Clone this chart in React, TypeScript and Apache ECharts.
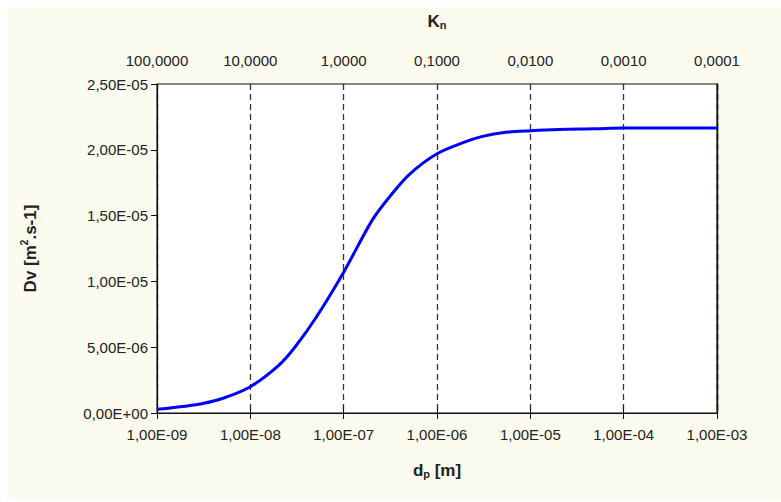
import React, { useEffect, useRef } from "react";
import * as echarts from "echarts";

const dpValues = [
  1e-9, 2e-9, 3e-9, 5e-9, 1e-8, 2e-8, 3e-8, 5e-8, 1e-7, 2e-7, 3e-7, 5e-7,
  1e-6, 2e-6, 3e-6, 5e-6, 1e-5, 2e-5, 5e-5, 1e-4, 1e-3,
];
const dvValues = [
  0.28e-6, 0.52e-6, 0.7e-6, 1.1e-6, 2.0e-6, 3.6e-6, 5.0e-6, 7.2e-6, 10.7e-6,
  14.6e-6, 16.3e-6, 18.1e-6, 19.7e-6, 20.6e-6, 21.0e-6, 21.3e-6, 21.45e-6,
  21.55e-6, 21.6e-6, 21.65e-6, 21.65e-6,
];

const FONT = "'Liberation Sans', Arial, sans-serif";

function fmtExp(v: number): string {
  const [m, e] = v.toExponential(2).split("e");
  const ex = parseInt(e, 10);
  const sign = ex < 0 ? "-" : "+";
  return m.replace(".", ",") + "E" + sign + String(Math.abs(ex)).padStart(2, "0");
}

function fmtKn(v: number): string {
  return v.toFixed(4).replace(".", ",");
}

export default function App() {
  const ref = useRef<HTMLDivElement>(null);
  useEffect(() => {
    if (!ref.current) return;
    const chart = echarts.init(ref.current, undefined, { renderer: "svg" });
    const labelStyle = { fontFamily: FONT, fontSize: 15, color: "#222" };
    const nameRich = {
      b: { fontFamily: FONT, fontSize: 17, fontWeight: "bold", color: "#222", lineHeight: 20, verticalAlign: "bottom" },
      s: { fontFamily: FONT, fontSize: 11, fontWeight: "bold", color: "#222", lineHeight: 8, verticalAlign: "bottom" },
      p: { fontFamily: FONT, fontSize: 10, fontWeight: "bold", color: "#222", lineHeight: 10, verticalAlign: "top" },
    };
    chart.setOption({
      animation: false,
      grid: {
        left: 157,
        right: 64,
        top: 84,
        bottom: 89,
        show: true,
        backgroundColor: "#ffffff",
        borderColor: "#111",
        borderWidth: 1,
      },
      xAxis: [
        {
          type: "log",
          logBase: 10,
          min: 1e-9,
          max: 1e-3,
          splitNumber: 6,
          position: "bottom",
          name: "{b|d}{s|p}{b| [m]}",
          nameLocation: "middle",
          nameGap: 46,
          nameTextStyle: { rich: nameRich },
          axisLine: { show: true, lineStyle: { color: "#111", width: 1.2 } },
          axisTick: { show: true, length: 6, lineStyle: { color: "#111" } },
          axisLabel: { ...labelStyle, margin: 14, formatter: (v: number) => fmtExp(v) },
          minorTick: { show: false },
          splitLine: { show: true, lineStyle: { color: "#333", type: [6, 4], width: 1.3 } },
        },
        {
          type: "log",
          logBase: 10,
          min: 1e-4,
          max: 100,
          inverse: true,
          splitNumber: 6,
          position: "top",
          name: "{b|K}{s|n}",
          nameLocation: "middle",
          nameGap: 54,
          nameTextStyle: { rich: nameRich },
          axisLine: { show: true, lineStyle: { color: "#111", width: 1.2 } },
          axisTick: { show: true, length: 6, lineStyle: { color: "#111" } },
          axisLabel: { ...labelStyle, margin: 16, formatter: (v: number) => fmtKn(v) },
          splitLine: { show: false },
        },
      ],
      yAxis: [
        {
          type: "value",
          min: 0,
          max: 2.5e-5,
          interval: 5e-6,
          name: "{b|Dv [m}{p|2}{b|.s-1]}",
          nameLocation: "middle",
          nameGap: 118,
          nameRotate: 90,
          nameTextStyle: { rich: nameRich },
          axisLine: { show: true, lineStyle: { color: "#111", width: 1.2 } },
          axisTick: { show: true, length: 6, lineStyle: { color: "#111" } },
          axisLabel: { ...labelStyle, margin: 9, formatter: (v: number) => fmtExp(v) },
          splitLine: { show: false },
        },
        {
          type: "value",
          min: 0,
          max: 2.5e-5,
          interval: 5e-6,
          position: "right",
          z: 10,
          axisLine: { show: true, lineStyle: { color: "#111", width: 1.4 } },
          axisTick: { show: false },
          axisLabel: { show: false },
          splitLine: { show: false },
        },
      ],
      series: [
        {
          type: "line",
          xAxisIndex: 0,
          yAxisIndex: 0,
          data: dpValues.map((d, i) => [d, dvValues[i]]),
          showSymbol: false,
          smooth: 0.3,
          lineStyle: { color: "#0000ff", width: 3 },
        },
      ],
    });
    return () => chart.dispose();
  }, []);
  return (
    <div style={{ position: "fixed", left: 0, top: 0, width: 781, height: 502, background: "#ffffff" }}>
      <div style={{ position: "absolute", left: 7, top: 7, width: 774, height: 493, background: "#fbfbef" }} />
      <div ref={ref} style={{ position: "absolute", left: 0, top: 0, width: 781, height: 502 }} />
    </div>
  );
}
